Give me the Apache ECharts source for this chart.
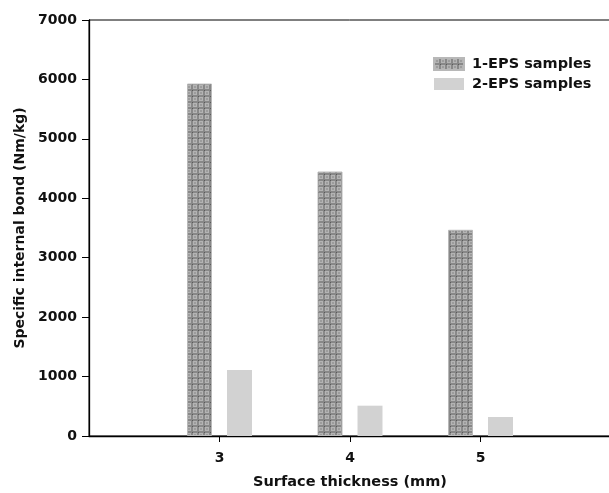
<!DOCTYPE html>
<html>
<head>
<meta charset="utf-8">
<script src="https://cdn.jsdelivr.net/npm/echarts@6/dist/echarts.min.js"></script>
<style>
  html, body { margin: 0; padding: 0; background: #fff; }
  #chart { width: 609px; height: 493px; }
</style>
</head>
<body>
<div id="chart"></div>
<script>
// Surface thickness (mm) and specific internal bond values (Nm/kg)
const thickness = [3, 4, 5];
const eps1 = [5930, 4450, 3470];
const eps2 = [1110, 510, 320];
const yTicks = [0, 1000, 2000, 3000, 4000, 5000, 6000, 7000];
const seriesNames = ['1-EPS samples', '2-EPS samples'];

// Small repeating tile for the textured bars
function makeTexture() {
  const c = document.createElement('canvas');
  c.width = 6; c.height = 6;
  const g = c.getContext('2d');
  g.fillStyle = '#888888';
  g.fillRect(0, 0, 6, 6);
  g.fillStyle = '#b4b4b4';
  g.fillRect(1, 1, 4, 4);
  g.fillStyle = '#9c9c9c';
  g.fillRect(2, 2, 2, 2);
  g.fillStyle = '#5a5a5a';
  g.fillRect(0, 0, 1, 1);
  return c;
}

const font = '"DejaVu Sans", sans-serif';
const chart = echarts.init(document.getElementById('chart'), null, { renderer: 'canvas' });

chart.setOption({
  animation: false,
  backgroundColor: '#ffffff',
  grid: {
    left: 89, top: 20, width: 522, height: 416,
    outerBoundsMode: 'none',
    containLabel: false,
    show: true, borderColor: '#000', borderWidth: 1, backgroundColor: 'transparent'
  },
  legend: {
    orient: 'vertical',
    left: 428, top: 51,
    icon: 'rect',
    itemWidth: 30, itemHeight: 12, itemGap: 4,
    data: seriesNames,
    textStyle: { fontFamily: font, fontWeight: 'bold', fontSize: 14.5, color: '#111', lineHeight: 16, padding: [0, 0, 0, 3] }
  },
  xAxis: {
    type: 'value',
    min: 2, max: 6, interval: 1,
    name: 'Surface thickness (mm)',
    nameLocation: 'middle',
    nameGap: 39,
    nameTextStyle: { fontFamily: font, fontWeight: 'bold', fontSize: 14.5, color: '#111' },
    splitLine: { show: false },
    axisLine: { show: true, lineStyle: { color: '#000', width: 1.3 } },
    axisTick: { show: true, length: 6, customValues: thickness, lineStyle: { color: '#000' } },
    axisLabel: {
      customValues: thickness,
      margin: 15,
      formatter: v => String(v),
      fontFamily: font, fontWeight: 'bold', fontSize: 14, color: '#111'
    }
  },
  yAxis: {
    type: 'value',
    min: 0, max: 7000, interval: 1000,
    name: 'Specific internal bond (Nm/kg)',
    nameLocation: 'middle',
    nameGap: 62,
    nameTextStyle: { fontFamily: font, fontWeight: 'bold', fontSize: 14, color: '#111' },
    splitLine: { show: false },
    axisLine: { show: true, lineStyle: { color: '#000', width: 1.3 } },
    axisTick: { show: true, length: 7, lineStyle: { color: '#000' } },
    axisLabel: {
      customValues: yTicks,
      margin: 12,
      formatter: v => String(v),
      fontFamily: font, fontWeight: 'bold', fontSize: 14, color: '#111'
    }
  },
  series: [
    {
      name: seriesNames[0],
      type: 'bar',
      barWidth: 25,
      barGap: '60%',
      data: thickness.map((t, i) => [t, eps1[i]]),
      itemStyle: {
        color: { image: makeTexture(), repeat: 'repeat' },
        borderColor: '#b8b8b8', borderWidth: 1
      }
    },
    {
      name: seriesNames[1],
      type: 'bar',
      barWidth: 25,
      barGap: '60%',
      data: thickness.map((t, i) => [t, eps2[i]]),
      itemStyle: { color: '#d2d2d2' }
    }
  ]
});
</script>
</body>
</html>
